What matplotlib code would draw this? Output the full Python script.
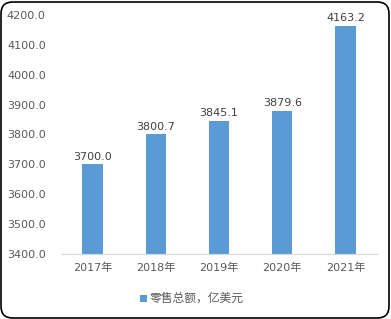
import matplotlib
matplotlib.use("Agg")
import matplotlib.pyplot as plt
from matplotlib.patches import FancyBboxPatch, Rectangle

plt.rcParams['font.family'] = ['DejaVu Sans', 'Noto Sans CJK SC']

years = ["2017年", "2018年", "2019年", "2020年", "2021年"]
values = [3700.0, 3800.7, 3845.1, 3879.6, 4163.2]
yticks = [3400, 3500, 3600, 3700, 3800, 3900, 4000, 4100, 4200]
legend_label = "零售总额，亿美元"

W, H = 391, 319
fig = plt.figure(figsize=(W/100, H/100), dpi=100)
ax = fig.add_axes([61/W, 65/H, (377-61)/W, (254-15)/H])

bar_color = "#5B9BD5"
text_color = "#595959"
x = range(len(years))
bars = ax.bar(x, values, width=0.32, color=bar_color, bottom=0, zorder=2)
ax.set_ylim(3400, 4200)
ax.set_xlim(-0.5, len(years) - 0.5)
ax.set_yticks(yticks)
ax.set_yticklabels([f"{v:.1f}" for v in yticks], fontsize=8, color=text_color)
ax.set_xticks(list(x))
ax.set_xticklabels(years, fontsize=8, color=text_color,
                   family=['DejaVu Sans', 'Noto Sans CJK SC'])
ax.tick_params(axis='both', length=0, pad=6)
ax.tick_params(axis='y', pad=11)
for s in ['top', 'right', 'left']:
    ax.spines[s].set_visible(False)
ax.spines['bottom'].set_color("#D9D9D9")

for xi, v in zip(x, values):
    ax.annotate(f"{v:.1f}", (xi, v), xytext=(0, 2), textcoords='offset points',
                ha='center', va='bottom', fontsize=8, color="#404040")

# legend
fig.patches.append(Rectangle((140/W, (H-302)/H), 7/W, 7/H, transform=fig.transFigure,
                             facecolor=bar_color, edgecolor='none'))
fig.text(150/W, (H-298)/H, legend_label, fontsize=8.5, color=text_color, va='center',
         ha='left', family=['Noto Sans CJK SC', 'DejaVu Sans'])

# rounded border
border = FancyBboxPatch((1/W, 1/H), (W-3)/W, (H-3)/H,
                        boxstyle="round,pad=0,rounding_size=0.03",
                        transform=fig.transFigure, facecolor='none',
                        edgecolor='black', linewidth=1.2, mutation_aspect=W/H)
fig.patches.append(border)

fig.savefig("out.png", dpi=100)
